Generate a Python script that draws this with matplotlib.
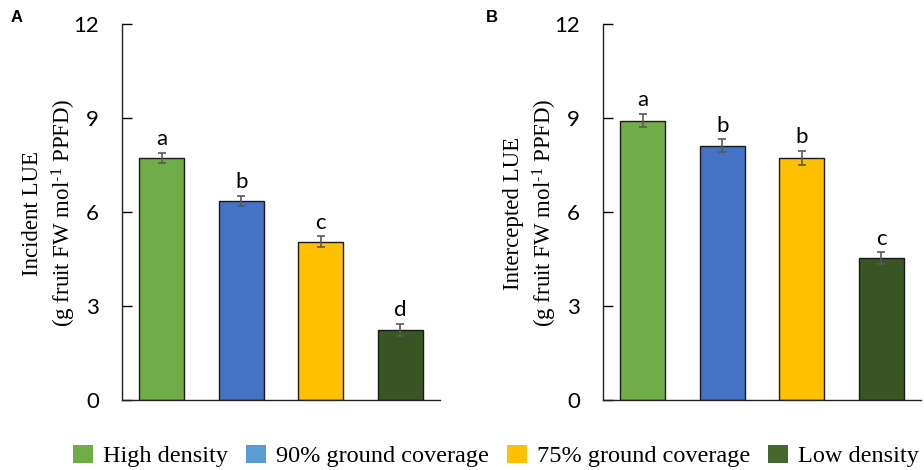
import matplotlib
matplotlib.use("Agg")
import matplotlib.pyplot as plt
from matplotlib.patches import Patch

plt.rcParams["mathtext.fontset"] = "custom"
plt.rcParams["mathtext.rm"] = "Liberation Serif"
plt.rcParams["mathtext.it"] = "Liberation Serif:italic"
plt.rcParams["mathtext.bf"] = "Liberation Serif:bold"

categories = ["High density", "90% ground coverage", "75% ground coverage", "Low density"]
incident_lue = [7.72, 6.35, 5.05, 2.23]
incident_err = [0.17, 0.17, 0.17, 0.20]
incident_letters = ["a", "b", "c", "d"]
intercepted_lue = [8.92, 8.12, 7.72, 4.52]
intercepted_err = [0.21, 0.20, 0.22, 0.19]
intercepted_letters = ["a", "b", "b", "c"]
yticks = [0, 3, 6, 9, 12]

bar_colors = ["#70AD47", "#4472C4", "#FFC000", "#375623"]
legend_colors = ["#70AD47", "#5B9BD5", "#FFC000", "#43682B"]

fig = plt.figure(figsize=(9.24, 4.70), dpi=100)
axA = fig.add_axes([122/924, 70/470, 318/924, 376/470])
axB = fig.add_axes([603/924, 70/470, 318/924, 376/470])

def draw(ax, vals, errs, letters, line1, label_x):
    x = list(range(len(vals)))
    ax.bar(x, vals, width=0.57, color=bar_colors, edgecolor="#1a1a1a", linewidth=1.0, zorder=2)
    ax.errorbar(x, vals, yerr=errs, fmt="none", ecolor="#595959", elinewidth=1.2, capsize=3, capthick=1.2, zorder=3)
    for xi, v, e, l in zip(x, vals, errs, letters):
        ax.text(xi, v + e + 0.12, l, ha="center", va="bottom", fontsize=16, family="Lato")
    ax.set_xlim(-0.5, 3.5)
    ax.set_ylim(0, 12)
    ax.set_yticks(yticks)
    ax.set_yticklabels([str(t) for t in yticks], family="Lato", fontsize=16)
    ax.tick_params(axis="y", direction="in", length=7, width=1, pad=16.5)
    ax.set_xticks([])
    for s in ["top", "right"]:
        ax.spines[s].set_visible(False)
    for s in ["left", "bottom"]:
        ax.spines[s].set_linewidth(1.0)
        ax.spines[s].set_color("#222222")
    fig.text(label_x / 924, 1 - 213/470,
             line1 + "\n(g fruit FW mol$^{\\text{-1}}$ PPFD)",
             rotation=90, ha="center", va="center", multialignment="center",
             family="Liberation Serif", fontsize=16.5, linespacing=1.3)

draw(axA, incident_lue, incident_err, incident_letters, "Incident LUE", 50)
draw(axB, intercepted_lue, intercepted_err, intercepted_letters, "Intercepted LUE", 531)

fig.text(17/924, 1 - 18/470, "A", fontsize=12, fontweight="bold", family="Liberation Sans", ha="center", va="center")
fig.text(492/924, 1 - 18/470, "B", fontsize=12, fontweight="bold", family="Liberation Sans", ha="center", va="center")

handles = [Patch(facecolor=c, edgecolor="none") for c in legend_colors]
fig.legend(handles, categories, loc="center", bbox_to_anchor=(496/924, 1 - 456/470), ncol=4,
           frameon=False, prop={"family": "Liberation Serif", "size": 17.5},
           handlelength=0.82, handleheight=0.82, handletextpad=0.42, columnspacing=0.74,
           borderpad=0, borderaxespad=0)

fig.savefig("out.png", dpi=100)
